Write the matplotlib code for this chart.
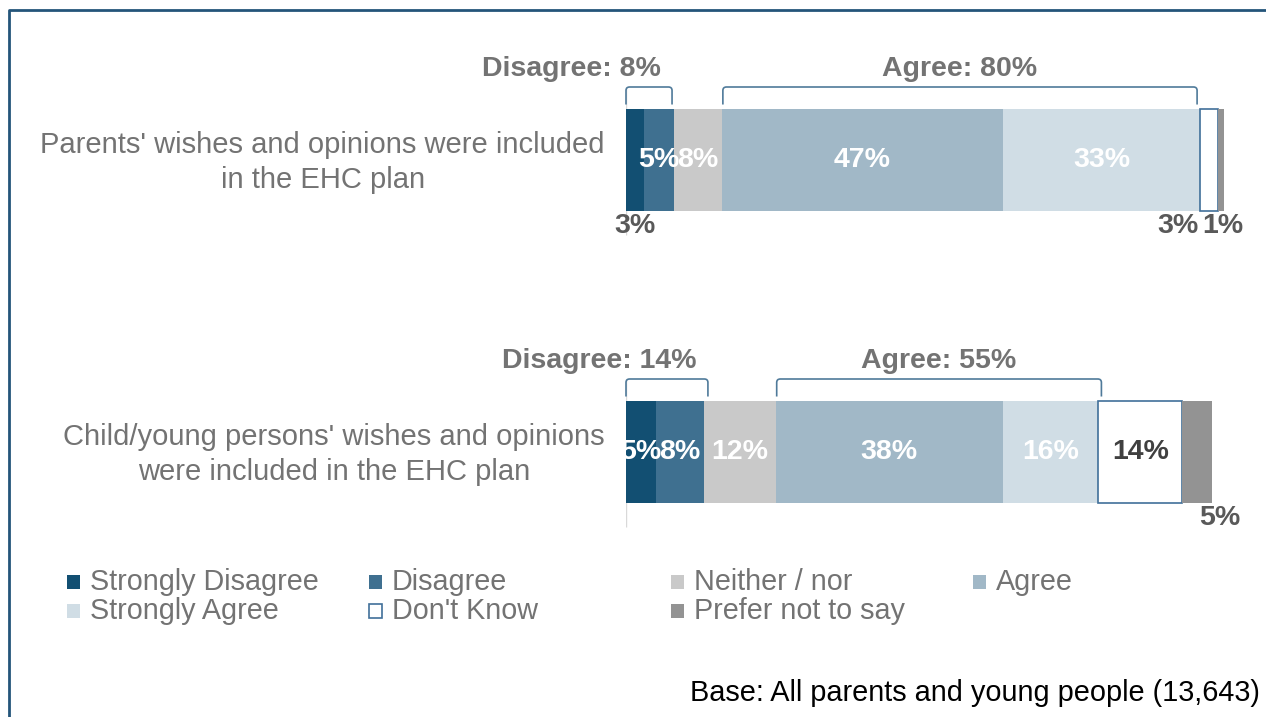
import matplotlib
matplotlib.use("Agg")
import matplotlib.pyplot as plt
from matplotlib.patches import Rectangle, PathPatch
from matplotlib.path import Path
from matplotlib.lines import Line2D

plt.rcParams['font.family'] = ['Liberation Sans', 'DejaVu Sans']

# ---------------- data ----------------
categories = ["Parents' wishes and opinions were included\nin the EHC plan",
              "Child/young persons' wishes and opinions\nwere included in the EHC plan"]
series_names = ["Strongly Disagree", "Disagree", "Neither / nor", "Agree",
                "Strongly Agree", "Don't Know", "Prefer not to say"]
strongly_disagree = [3, 5]
disagree = [5, 8]
neither = [8, 12]
agree = [47, 38]
strongly_agree = [33, 16]
dont_know = [3, 14]
prefer_not = [1, 5]
disagree_net = [8, 14]
agree_net = [80, 55]
base_note = "Base: All parents and young people (13,643)"

series_values = [strongly_disagree, disagree, neither, agree,
                 strongly_agree, dont_know, prefer_not]

# ---------------- style ----------------
fills = ["#124F72", "#3F7090", "#C9C9C9", "#A1B8C7", "#D0DDE5", "#FFFFFF", "#939393"]
edges = [None, None, None, None, None, "#41709A", None]
text_gray = "#737373"
dark_lbl = "#595959"
bracket_col = "#4F7A9A"
FS_B = 20.5   # bold labels
FS_N = 21     # normal text

# label placement per bar, per series: ('in', color) or ('below', ha, offset_px)
placement = [
    [("below", "center", 0), ("in", "white"), ("in", "white"), ("in", "white"),
     ("in", "white"), ("below", "right", -10), ("below", "left", -19)],
    [("in", "white"), ("in", "white"), ("in", "white"), ("in", "white"),
     ("in", "white"), ("in", "#404040"), ("below", "left", 2)],
]

W, H = 1266, 717
fig = plt.figure(figsize=(W / 100, H / 100), dpi=100)
ax = fig.add_axes([626 / W, 1 - 598 / H, 598 / W, 584 / H])

ypos = list(range(len(categories)))
bar_h = 0.35
left = [0] * len(categories)
for s, vals in enumerate(series_values):
    ec = edges[s] if edges[s] else fills[s]
    lw = 1.2 if edges[s] else 0
    ax.barh(ypos, vals, left=left, height=bar_h, color=fills[s],
            edgecolor=ec, linewidth=lw, label=series_names[s])
    for i, v in enumerate(vals):
        cx = left[i] + v / 2
        p = placement[i][s]
        if p[0] == "in":
            ax.text(cx, ypos[i], f"{v}%", ha="center", va="center", color=p[1],
                    fontsize=FS_B, fontweight="bold")
        else:
            ax.annotate(f"{v}%", (cx, ypos[i] + 0.225), xytext=(p[2] * 0.72, 0),
                        textcoords="offset points", ha=p[1], va="center",
                        color=dark_lbl, fontsize=FS_B, fontweight="bold")
    left = [l + v for l, v in zip(left, vals)]


def bracket(x0, x1, yc, text, ha):
    ytop = yc - 0.25
    yend = yc - 0.19
    rx, ry = 0.6, 0.012
    verts = [(x0, yend), (x0, ytop + ry), (x0, ytop), (x0 + rx, ytop),
             (x1 - rx, ytop), (x1, ytop), (x1, ytop + ry), (x1, yend)]
    codes = [Path.MOVETO, Path.LINETO, Path.CURVE3, Path.CURVE3,
             Path.LINETO, Path.CURVE3, Path.CURVE3, Path.LINETO]
    ax.add_patch(PathPatch(Path(verts, codes), fill=False, edgecolor=bracket_col,
                           linewidth=1.2, clip_on=False))
    ty = yc - 0.31
    if ha == "right":
        ax.annotate(text, (x1, ty), xytext=(-8, 0), textcoords="offset points",
                    ha="right", va="center", color=text_gray, fontsize=FS_B,
                    fontweight="bold", annotation_clip=False)
    else:
        ax.text((x0 + x1) / 2, ty, text, ha="center", va="center",
                color=text_gray, fontsize=FS_B, fontweight="bold", clip_on=False)


for i in range(len(categories)):
    bracket(0, disagree_net[i] - 0.3, ypos[i], f"Disagree: {disagree_net[i]}%", "right")
    a0 = strongly_disagree[i] + disagree[i] + neither[i]
    bracket(a0 + 0.2, a0 + agree_net[i] - 0.5, ypos[i], f"Agree: {agree_net[i]}%", "center")

# category axis line, visible around each bar only
ax.vlines([0] * len(ypos), [y - 0.25 for y in ypos], [y + 0.257 for y in ypos],
          color="#D9D9D9", linewidth=1, zorder=0.5)

# category labels
for i, cat in enumerate(categories):
    ax.annotate(cat, (0, ypos[i]), xytext=(-21 * 0.72, -2.5 * 0.72),
                textcoords="offset points", ha="right", va="center",
                multialignment="center", linespacing=1.33,
                fontsize=FS_N, color=text_gray, annotation_clip=False)

ax.set_xlim(0, 100)
ax.set_ylim(1.5, -0.5)
ax.set_yticks([])
ax.set_xticks([])
for sp in ["top", "right", "bottom", "left"]:
    ax.spines[sp].set_visible(False)
ax.patch.set_alpha(0)

# ---------------- legend (uniform columns) ----------------
col_x = [67, 369, 671, 973]
row_y = [582, 611]
for k, s in enumerate(range(len(series_names))):
    r, c = divmod(k, 4)
    x, y = col_x[c], row_y[r]
    ec = edges[s] if edges[s] else fills[s]
    fig.patches.append(Rectangle((x / W, 1 - (y + 7) / H), 13 / W, 14 / H,
                                 transform=fig.transFigure, facecolor=fills[s],
                                 edgecolor=ec, linewidth=1.2 if edges[s] else 0))
    fig.text((x + 23) / W, 1 - y / H, series_names[s], ha="left", va="center",
             fontsize=FS_N - 0.3, color=text_gray)

fig.text(1260 / W, 1 - 693 / H, base_note, ha="right", va="center",
         fontsize=FS_N - 0.2, color="black")

# frame
fig.add_artist(Line2D([9 / W, 9 / W, 1], [0, 1 - 10 / H, 1 - 10 / H],
                      transform=fig.transFigure, color="#24557A", linewidth=2))

fig.savefig("out.png", dpi=100)
